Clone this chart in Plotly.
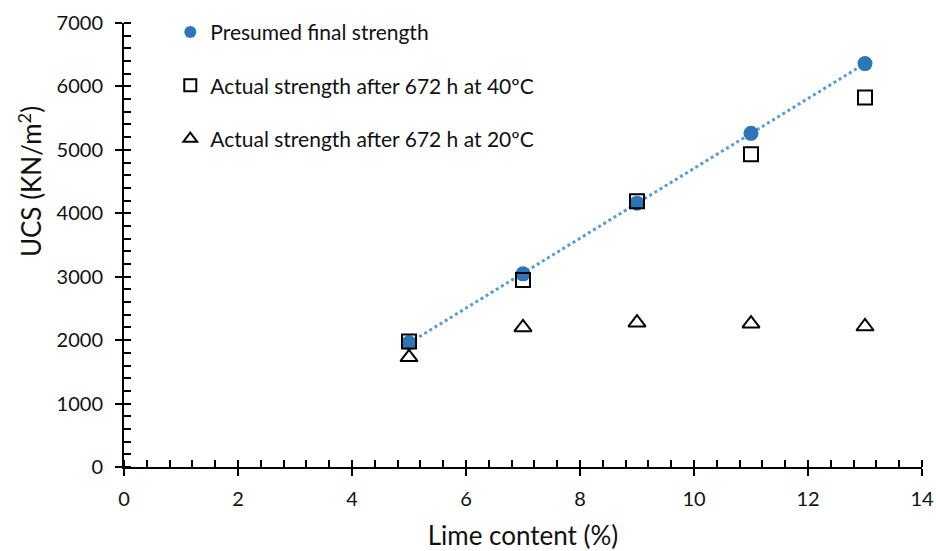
import numpy as np
import plotly.graph_objects as go

lime = [5, 7, 9, 11, 13]
presumed = [1960, 3045, 4160, 5260, 6360]
actual_40 = [1980, 2950, 4190, 4930, 5825]
actual_20 = [1730, 2200, 2275, 2260, 2215]

names = ["Presumed final strength",
         "Actual strength after 672 h at 40\u00baC",
         "Actual strength after 672 h at 20\u00baC"]

FONT = "Lato"
TXT = "#111111"

slope, inter = np.polyfit(lime, presumed, 1)
trend_x = [min(lime), max(lime)]
trend_y = [slope * v + inter for v in trend_x]

fig = go.Figure()
fig.add_trace(go.Scatter(x=trend_x, y=trend_y, mode="lines",
                         line=dict(color="#5B9BD5", width=3, dash="dot"),
                         showlegend=False, hoverinfo="skip"))
fig.add_trace(go.Scatter(x=lime, y=presumed, mode="markers", name=names[0],
                         marker=dict(symbol="circle", size=15, color="#2E75B6"),
                         legendgroup="a"))
fig.add_trace(go.Scatter(x=lime, y=actual_40, mode="markers", name=names[1],
                         marker=dict(symbol="square-open", size=14, color="black",
                                     line=dict(width=2, color="black")),
                         legendgroup="b"))
fig.add_trace(go.Scatter(x=lime, y=actual_20, mode="markers", name=names[2],
                         marker=dict(symbol="triangle-up-open", size=15, color="black",
                                     line=dict(width=2, color="black")),
                         legendgroup="c"))

axis_common = dict(showgrid=False, zeroline=False, showline=True, linecolor="black",
                   linewidth=2, ticks="outside", ticklen=7, tickwidth=2, tickcolor="black",
                   automargin=False,
                   tickfont=dict(family=FONT, size=20, color=TXT))

fig.update_layout(
    width=936, height=551,
    margin=dict(l=124, r=14, t=21, b=84),
    plot_bgcolor="white", paper_bgcolor="white",
    font=dict(family=FONT, color=TXT),
    xaxis=dict(range=[0, 14], dtick=2, **axis_common, ticklabelstandoff=6,
               minor=dict(ticks="inside", dtick=0.4, ticklen=7, tickwidth=1.5, tickcolor="black"),
               title=dict(text="Lime content (%)", font=dict(family=FONT, size=26, color=TXT), standoff=22)),
    yaxis=dict(range=[0, 7000], dtick=1000, **axis_common, ticklabelstandoff=8,
               minor=dict(ticks="inside", dtick=200, ticklen=7, tickwidth=1.5, tickcolor="black")),
    xaxis2=dict(range=[0, 14], dtick=2, overlaying="x", showticklabels=False, showgrid=False,
                zeroline=False, ticks="inside", ticklen=7, tickwidth=2, tickcolor="black",
                side="bottom", anchor="y", automargin=False),
    yaxis2=dict(range=[0, 7000], dtick=1000, overlaying="y", showticklabels=False, showgrid=False,
                zeroline=False, ticks="inside", ticklen=7, tickwidth=2, tickcolor="black",
                side="left", anchor="x", automargin=False),
    legend=dict(x=0.058, y=1.025, xanchor="left", yanchor="top", bgcolor="rgba(0,0,0,0)",
                font=dict(family=FONT, size=21, color=TXT), tracegroupgap=23,
                itemsizing="constant", traceorder="grouped", itemwidth=30),
    showlegend=True,
    annotations=[dict(text="UCS (KN/m<sup>2</sup>)", textangle=-90, xref="paper", yref="paper",
                      x=-0.118, y=0.6435, xanchor="center", yanchor="middle", showarrow=False,
                      font=dict(family=FONT, size=26, color=TXT))],
)
fig.add_trace(go.Scatter(x=[None], y=[None], xaxis="x2", yaxis="y2", showlegend=False, hoverinfo="skip"))

fig.write_html("out.html")
